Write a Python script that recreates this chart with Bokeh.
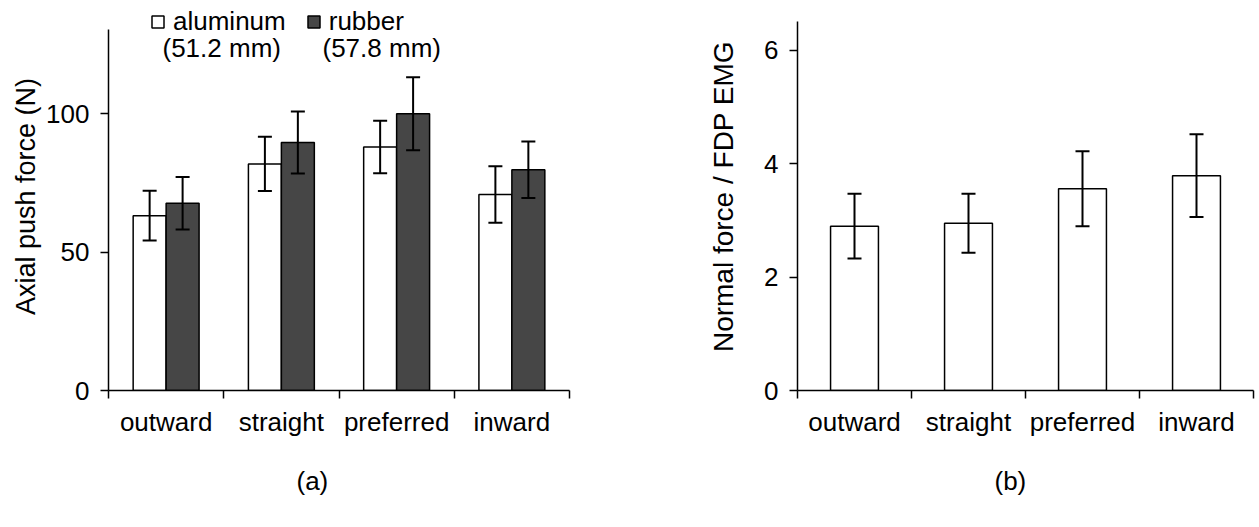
from bokeh.plotting import figure
from bokeh.models import (FactorRange, Range1d, LinearAxis, CategoricalAxis, FixedTicker, Title,
                          Whisker, TeeHead, ColumnDataSource, Legend, LegendItem, Label)
from bokeh.transform import dodge
from bokeh.layouts import row
from bokeh.embed import file_html
from bokeh.resources import INLINE

categories = ["outward", "straight", "preferred", "inward"]
alu_mean = [63.2, 81.9, 88.0, 70.8]
alu_err = [9.0, 9.8, 9.5, 10.2]
rub_mean = [67.7, 89.6, 100.0, 79.8]
rub_err = [9.5, 11.2, 13.2, 10.2]
ratio_mean = [2.90, 2.95, 3.56, 3.79]
ratio_err = [0.57, 0.52, 0.66, 0.73]
left_ticks = [0, 50, 100]
right_ticks = [0, 2, 4, 6]
legend_labels = ["aluminum", "rubber"]
legend_sub = ["(51.2 mm)", "(57.8 mm)"]

FONT = "Liberation Sans"
FS = "26px"
DARK = "#464646"


def make_fig(y_end, y_axis_end, frame_w, b_left, b_right, y_ticks, y_label, y_label_standoff,
             y_label_size, panel_tag, tag_offset):
    p = figure(x_range=FactorRange(*categories), y_range=Range1d(0, y_end),
               frame_width=frame_w, frame_height=388,
               min_border_left=b_left, min_border_right=b_right,
               min_border_top=2, min_border_bottom=134,
               x_axis_location=None, output_backend="svg",
               toolbar_location=None, tools="")
    p.grid.grid_line_color = None
    p.outline_line_color = None
    p.background_fill_color = "white"
    p.border_fill_color = "white"
    ya = p.yaxis[0]
    ya.bounds = (0, y_axis_end)
    ya.ticker = FixedTicker(ticks=y_ticks, minor_ticks=[])
    ya.major_tick_out = 8
    ya.major_tick_in = 0
    ya.minor_tick_out = 0
    ya.minor_tick_in = 0
    ya.axis_line_width = 1.5
    ya.major_tick_line_width = 1.5
    ya.axis_line_color = "black"
    ya.major_tick_line_color = "black"
    ya.major_label_text_font = FONT
    ya.major_label_text_font_size = FS
    ya.major_label_text_color = "black"
    ya.major_label_standoff = 11
    ya.axis_label = y_label
    ya.axis_label_text_font = FONT
    ya.axis_label_text_font_size = y_label_size
    ya.axis_label_text_font_style = "normal"
    ya.axis_label_text_color = "black"
    ya.axis_label_standoff = y_label_standoff

    # tick marks at the category boundaries (synthetic coordinates 0..n)
    ea = LinearAxis(ticker=FixedTicker(ticks=list(range(len(categories) + 1)), minor_ticks=[]),
                    major_tick_out=8, major_tick_in=0, minor_tick_out=0, minor_tick_in=0,
                    major_label_overrides={i: "" for i in range(len(categories) + 1)},
                    major_label_text_font_size="1px", major_label_standoff=0,
                    axis_line_width=1.5, major_tick_line_width=1.5,
                    axis_line_color="black", major_tick_line_color="black")
    p.add_layout(ea, "below")
    ca = CategoricalAxis(axis_line_color=None, major_tick_line_color=None,
                         major_tick_out=0, major_tick_in=0,
                         major_label_text_font=FONT, major_label_text_font_size=FS,
                         major_label_text_color="black", major_label_standoff=8)
    p.add_layout(ca, "below")
    p.add_layout(Title(text=panel_tag, align="left", offset=tag_offset, standoff=49,
                       text_font=FONT, text_font_size=FS, text_font_style="normal",
                       text_color="black"), "below")
    return p


# ---------- (a) ----------
src_a = ColumnDataSource(dict(
    cats=categories,
    alu=alu_mean,
    alu_lo=[m - e for m, e in zip(alu_mean, alu_err)],
    alu_hi=[m + e for m, e in zip(alu_mean, alu_err)],
    rub=rub_mean,
    rub_lo=[m - e for m, e in zip(rub_mean, rub_err)],
    rub_hi=[m + e for m, e in zip(rub_mean, rub_err)],
))

p1 = make_fig(388 / 2.767, 130.4, 461, 108, 31, left_ticks, "Axial push force (N)", 2, "27px",
              "(a)", 188)
r_alu = p1.vbar(x=dodge("cats", -0.143, range=p1.x_range), top="alu", width=0.286, source=src_a,
                fill_color="white", line_color="black", line_width=1.5)
r_rub = p1.vbar(x=dodge("cats", 0.143, range=p1.x_range), top="rub", width=0.286, source=src_a,
                fill_color=DARK, line_color="black", line_width=1.5)
for off, lo, hi in [(-0.143, "alu_lo", "alu_hi"), (0.143, "rub_lo", "rub_hi")]:
    w = Whisker(source=src_a, base=dodge("cats", off, range=p1.x_range), upper=hi, lower=lo,
                line_width=2, line_color="black", level="annotation",
                upper_head=TeeHead(size=14, line_width=2, line_color="black"),
                lower_head=TeeHead(size=14, line_width=2, line_color="black"))
    p1.add_layout(w)

legend = Legend(items=[LegendItem(label=legend_labels[0], renderers=[r_alu]),
                       LegendItem(label=legend_labels[1], renderers=[r_rub])],
                location=(42, 353), orientation="horizontal",
                glyph_width=15, glyph_height=15, label_standoff=8, spacing=20,
                padding=0, margin=0, border_line_color=None, background_fill_alpha=0,
                label_text_font=FONT, label_text_font_size=FS, label_text_color="black")
p1.add_layout(legend)
for xs, t in [(54, legend_sub[0]), (214, legend_sub[1])]:
    p1.add_layout(Label(x=xs, y=343, x_units="screen", y_units="screen", text=t,
                        text_font=FONT, text_font_size=FS, text_color="black",
                        text_baseline="alphabetic", text_align="left"))

# ---------- (b) ----------
src_b = ColumnDataSource(dict(
    cats=categories,
    val=ratio_mean,
    lo=[m - e for m, e in zip(ratio_mean, ratio_err)],
    hi=[m + e for m, e in zip(ratio_mean, ratio_err)],
))
p2 = make_fig(388 / 56.67, 6.52, 456, 197, 4, right_ticks, "Normal force / FDP EMG", 22, "28px",
              "(b)", 197)
p2.vbar(x="cats", top="val", width=0.42, source=src_b,
        fill_color="white", line_color="black", line_width=1.5)
p2.add_layout(Whisker(source=src_b, base="cats", upper="hi", lower="lo",
                      line_width=2, line_color="black", level="annotation",
                      upper_head=TeeHead(size=14, line_width=2, line_color="black"),
                      lower_head=TeeHead(size=14, line_width=2, line_color="black")))

layout = row(p1, p2)
open("out.html", "w").write(file_html(layout, INLINE))
